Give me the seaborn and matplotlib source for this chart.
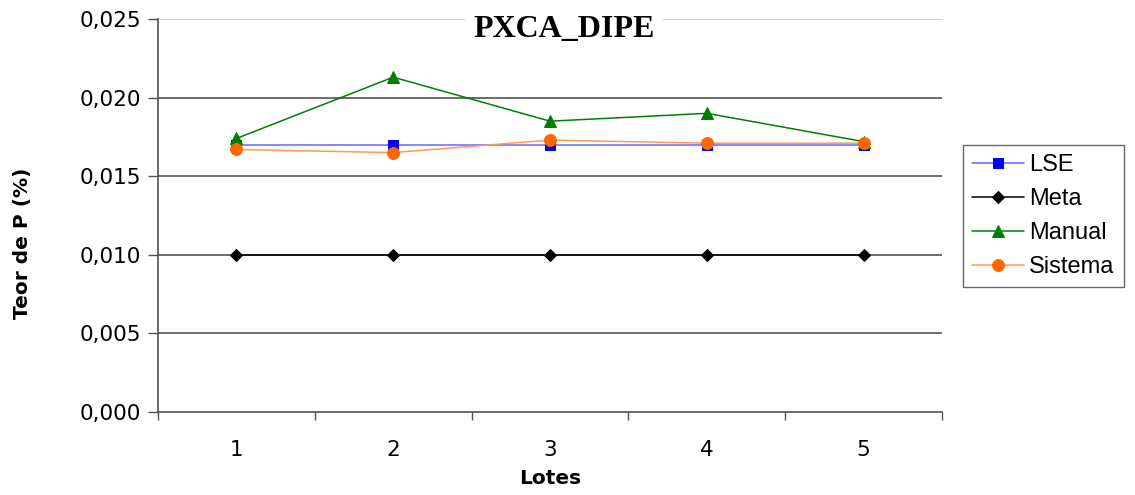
import matplotlib
matplotlib.use("Agg")
import matplotlib.pyplot as plt
import seaborn as sns
import pandas as pd
from matplotlib.ticker import FixedLocator, NullFormatter, FixedFormatter

lotes = [1, 2, 3, 4, 5]
lse = [0.0170, 0.0170, 0.0170, 0.0170, 0.0170]
meta = [0.0100, 0.0100, 0.0100, 0.0100, 0.0100]
manual = [0.0174, 0.0213, 0.0185, 0.0190, 0.0172]
sistema = [0.0167, 0.0165, 0.0173, 0.0171, 0.0171]
y_ticks = [0.000, 0.005, 0.010, 0.015, 0.020, 0.025]
y_tick_labels = ["0,000", "0,005", "0,010", "0,015", "0,020", "0,025"]
title = "PXCA_DIPE"

sns.set_style("white")
plt.rcParams["font.family"] = ["DejaVu Sans"]
plt.rcParams["text.color"] = "black"
plt.rcParams["axes.labelcolor"] = "black"
plt.rcParams["xtick.color"] = "black"
plt.rcParams["ytick.color"] = "black"

fig = plt.figure(figsize=(11.35, 4.95), dpi=100)
ax = fig.add_axes([158 / 1135, 83 / 495, 784 / 1135, 393 / 495])

series = [
    ("LSE", lse, "#6666ff", "s", "#0000ff", 7.5),
    ("Meta", meta, "#000000", "D", "#000000", 6.5),
    ("Manual", manual, "#008000", "^", "#008000", 9),
    ("Sistema", sistema, "#ff9955", "o", "#ff6600", 8.5),
]
for name, vals, lc, mk, mc, ms in series:
    df = pd.DataFrame({"Lotes": lotes, "v": vals})
    sns.lineplot(data=df, x="Lotes", y="v", ax=ax, color=lc, marker=mk,
                 markerfacecolor=mc, markeredgecolor=mc, markersize=ms,
                 linewidth=1.1, label=name, zorder=3)

ax.set_xlim(0.5, 5.5)
ax.set_ylim(0, 0.025)

for yt in y_ticks[1:-1]:
    ax.axhline(yt, color="#606060", linewidth=1.3, zorder=1)
ax.axhline(y_ticks[-1], color="#d4d4d4", linewidth=1.5, zorder=1)

for s in ["top", "right"]:
    ax.spines[s].set_visible(False)
for s in ["left", "bottom"]:
    ax.spines[s].set_color("#505050")
    ax.spines[s].set_linewidth(1.2)

ax.yaxis.set_major_locator(FixedLocator(y_ticks))
ax.yaxis.set_major_formatter(FixedFormatter(y_tick_labels))
ax.tick_params(axis="y", which="major", left=True, length=7, width=1,
               color="#505050", labelsize=15.5, pad=5)

ax.xaxis.set_major_locator(FixedLocator([0.5, 1.5, 2.5, 3.5, 4.5, 5.5]))
ax.xaxis.set_major_formatter(NullFormatter())
ax.xaxis.set_minor_locator(FixedLocator(lotes))
ax.xaxis.set_minor_formatter(FixedFormatter([str(v) for v in lotes]))
ax.tick_params(axis="x", which="major", bottom=True, length=6, width=1, color="#505050")
ax.tick_params(axis="x", which="minor", bottom=False, length=0, labelsize=15.5, pad=20)

ax.set_xlabel("Lotes", fontsize=14.5, fontweight="bold", labelpad=7)
ax.set_ylabel("Teor de P (%)", fontsize=14.5, fontweight="bold")
ax.yaxis.set_label_coords(-0.161, 0.43)

ax.text(0.518, 0.973, title, transform=ax.transAxes, ha="center", va="center",
        fontsize=23, fontweight="bold", family="Liberation Serif", color="black",
        bbox=dict(facecolor="white", edgecolor="none", pad=6), zorder=5)

leg = ax.legend(loc="upper left", bbox_to_anchor=(963 / 1135, 1 - 145 / 495),
                bbox_transform=fig.transFigure, frameon=True, fancybox=False,
                prop={"family": "Liberation Sans", "size": 17}, handlelength=2.2,
                handletextpad=0.2, labelspacing=0.5, borderpad=0.4, borderaxespad=0)
leg.get_frame().set_edgecolor("#404040")
leg.get_frame().set_linewidth(1.0)
for t in leg.get_texts():
    t.set_color("black")

fig.savefig("out.png", dpi=100)
